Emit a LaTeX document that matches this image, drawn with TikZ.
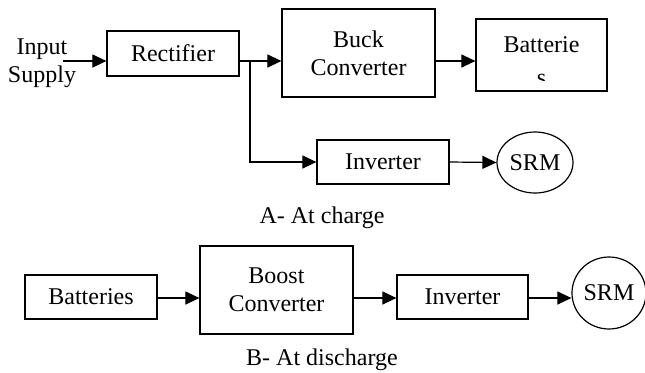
\documentclass[tikz,border=0pt]{standalone}
\usepackage{fontspec}
\setmainfont{Liberation Serif}
\usetikzlibrary{arrows.meta,shapes.geometric}

\begin{document}
\begin{tikzpicture}[x=0.5pt,y=-0.5pt,
  font=\fontsize{12}{14}\selectfont,
  blk/.style={draw,line width=0.6pt,inner sep=0pt,align=center},
  mot/.style={draw,ellipse,line width=0.6pt,inner sep=0pt},
  arr/.style={-{Triangle[length=7pt,width=6.5pt]},line width=0.6pt}]
\useasboundingbox (0,0) rectangle (645,372);

%% A - charge
\draw(42,63) node[align=center] (in) {Input\\Supply};
\coordinate (src) at (63,61);
\coordinate (jn) at (250,61);

\draw(173,53.5) node[blk,minimum width=66pt,minimum height=22.5pt] (rect) {Rectifier};
\draw(358.5,53) node[blk,minimum width=76.5pt,minimum height=44pt] (buck) {Buck\\Converter};
\draw(541.5,55) node[blk,minimum width=65.5pt,minimum height=36pt] (battA) {};
\begin{scope}
\clip (477,20) rectangle (606,80);
\draw(541.5,61.5) node[align=center] (battAtxt) {Batterie\\[2.5pt]s};
\end{scope}

\draw(383,162) node[blk,minimum width=66pt,minimum height=22pt] (invA) {Inverter};
\draw(535,162.5) node[mot,minimum width=38pt,minimum height=30.5pt] (srmA) {SRM};

\draw[arr] (src) -- (rect.west |- src);
\draw[line width=0.6pt] (rect.east |- jn) -- (jn);
\draw[arr] (jn) -- (buck.west |- jn);
\draw[arr] (buck.east |- jn) -- (battA.west |- jn);
\draw[arr] (jn) |- (invA.west);
\draw[arr] (invA.east) -- (srmA.west);

\draw(322,217.5) node (capA) {A- At charge};

%% B - discharge
\coordinate (lo) at (0,298);
\draw(91,297) node[blk,minimum width=66pt,minimum height=22pt] (battB) {Batteries};
\draw(276.5,290) node[blk,minimum width=76.5pt,minimum height=44pt] (boost) {Boost\\Converter};
\draw(462.5,297) node[blk,minimum width=65.5pt,minimum height=22pt] (invB) {Inverter};
\draw(609,293) node[mot,minimum width=37pt,minimum height=36pt] (srmB) {SRM};

\draw[arr] (battB.east |- lo) -- (boost.west |- lo);
\draw[arr] (boost.east |- lo) -- (invB.west |- lo);
\draw[arr] (invB.east |- lo) -- (srmB.west |- lo);

\draw(322,359.5) node (capB) {B- At discharge};
\end{tikzpicture}
\end{document}
